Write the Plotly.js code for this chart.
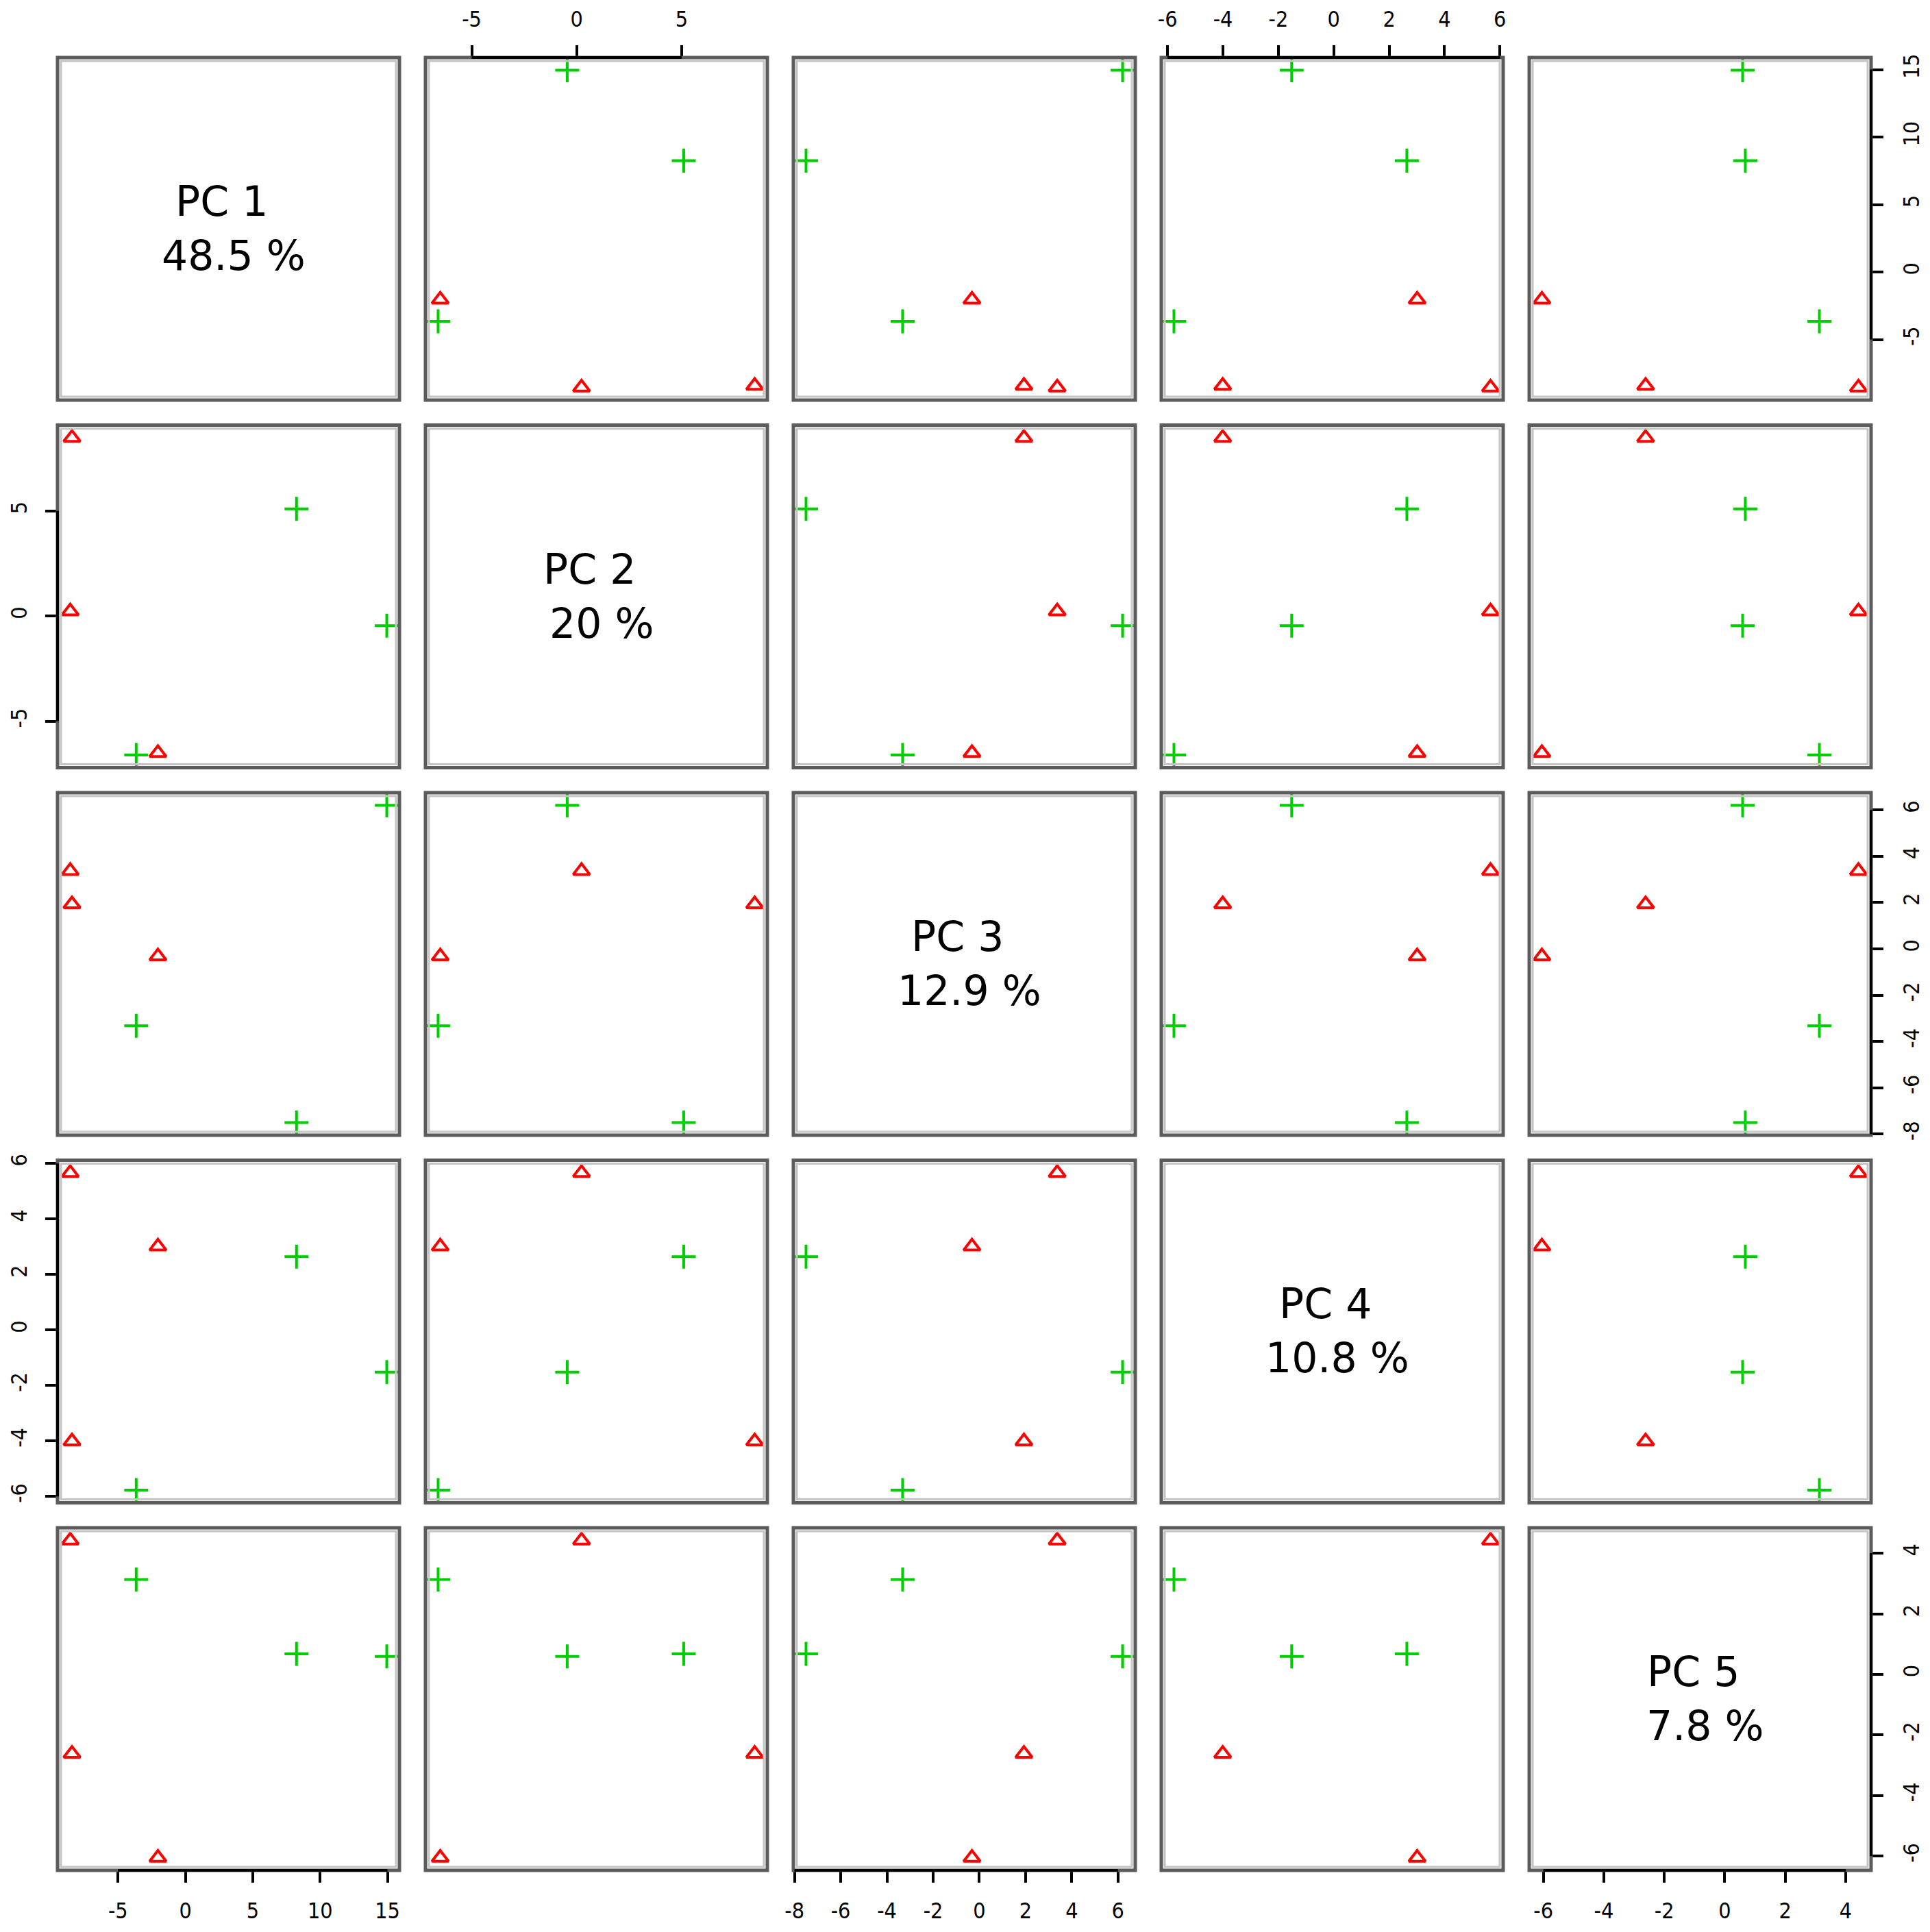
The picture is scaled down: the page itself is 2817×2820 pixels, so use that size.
<!DOCTYPE html>
<html>
<head>
<meta charset="utf-8">
<script src="https://cdn.plot.ly/plotly-3.0.1.min.js"></script>
<style>html,body{margin:0;padding:0;background:#fff;}</style>
</head>
<body>
<div id="chart" style="width:2817px;height:2820px;"></div>
<script>
// ---- data ----
const pcNames = ['PC 1', 'PC 2', 'PC 3', 'PC 4', 'PC 5'];
const pcVariance = ['48.5 %', '20 %', '12.9 %', '10.8 %', '7.8 %'];
const groups = ['red', 'red', 'red', 'green', 'green', 'green'];
const pc1 = [-8.42, -8.55, -2.04, 8.25, 14.95, -3.65];
const pc2 = [8.48, 0.23, -6.50, 5.10, -0.45, -6.60];
const pc3 = [1.93, 3.37, -0.32, -7.50, 6.20, -3.32];
const pc4 = [-4.01, 5.66, 3.01, 2.64, -1.52, -5.77];
const pc5 = [-2.62, 4.42, -6.05, 0.68, 0.59, 3.13];
const ticks1 = [-5, 0, 5, 10, 15];
const ticks2 = [-5, 0, 5];
const ticks3 = [-8, -6, -4, -2, 0, 2, 4, 6];
const ticks4 = [-6, -4, -2, 0, 2, 4, 6];
const ticks5 = [-6, -4, -2, 0, 2, 4];

// ---- layout helpers ----
const pcs = [pc1, pc2, pc3, pc4, pc5];
const tickSets = [ticks1, ticks2, ticks3, ticks4, ticks5];
const W = 2817, H = 2820;
const N = 5;
const colLeft = c => 84 + 537 * c;
const colW = 499;
const rowTop = r => 84 + 536.5 * r;
const rowH = 500;
const xDom = c => [colLeft(c) / W, (colLeft(c) + colW) / W];
const yDom = r => [1 - (rowTop(r) + rowH) / H, 1 - rowTop(r) / H];
const axId = (p, i) => (i === 0 ? p : p + (i + 1));
const axKey = (p, i) => (i === 0 ? p + 'axis' : p + 'axis' + (i + 1));

function extRange(v) {
  const mn = Math.min(...v), mx = Math.max(...v);
  const d = (mx - mn) * 0.04;
  return [mn - d, mx + d];
}

const tickFont = {family: 'Liberation Sans Narrow, Arial Narrow, DejaVu Sans Condensed, sans-serif', size: 32, color: '#000'};
const styles = {
  red: {symbol: 'triangle-up-open', color: '#ff0000', size: 21, line: {color: '#ff0000', width: 4}},
  green: {symbol: 'cross-thin-open', color: '#00cd00', size: 25, line: {color: '#00cd00', width: 4}}
};

const traces = [];
for (let r = 0; r < N; r++) {
  for (let c = 0; c < N; c++) {
    if (r === c) continue;
    ['red', 'green'].forEach(g => {
      const idx = groups.map((gg, i) => gg === g ? i : -1).filter(i => i >= 0);
      traces.push({
        type: 'scatter', mode: 'markers',
        x: idx.map(i => pcs[c][i]),
        y: idx.map(i => pcs[r][i]),
        xaxis: axId('x', c), yaxis: axId('y', r),
        marker: styles[g], showlegend: false, hoverinfo: 'skip'
      });
    });
  }
}

const layout = {
  width: W, height: H, autosize: false,
  margin: {l: 0, r: 0, t: 0, b: 0, pad: 0},
  paper_bgcolor: '#ffffff', plot_bgcolor: 'rgba(0,0,0,0)',
  showlegend: false, shapes: [], annotations: []
};

for (let i = 0; i < N; i++) {
  const xside = (i % 2 === 0) ? 'bottom' : 'top';
  const yside = (i % 2 === 0) ? 'right' : 'left';
  layout[axKey('x', i)] = {
    domain: xDom(i), range: extRange(pcs[i]), anchor: xside === 'bottom' ? axId('y', N - 1) : 'y',
    side: xside, showgrid: false, zeroline: false, showline: false,
    ticks: 'outside', ticklen: 17, tickwidth: 4, tickcolor: '#000',
    tickmode: 'array', tickvals: tickSets[i], ticktext: tickSets[i].map(String),
    tickfont: tickFont, tickangle: 0, ticklabelstandoff: 14, fixedrange: true
  };
  layout[axKey('y', i)] = {
    domain: yDom(i), range: extRange(pcs[i]), anchor: yside === 'right' ? axId('x', N - 1) : 'x',
    side: yside, showgrid: false, zeroline: false, showline: false,
    ticks: 'outside', ticklen: 17, tickwidth: 4, tickcolor: '#000',
    tickmode: 'array', tickvals: tickSets[i], ticktext: tickSets[i].map(String),
    tickfont: tickFont, tickangle: -90, ticklabelstandoff: 14, fixedrange: true
  };
}

// panel boxes
for (let r = 0; r < N; r++) {
  for (let c = 0; c < N; c++) {
    const x0 = colLeft(c), x1 = colLeft(c) + colW, y0 = rowTop(r), y1 = rowTop(r) + rowH;
    layout.shapes.push({type: 'rect', xref: 'paper', yref: 'paper',
      x0: (x0 + 5) / W, x1: (x1 - 5) / W, y0: 1 - (y1 - 5) / H, y1: 1 - (y0 + 5) / H,
      line: {color: '#c4c4c4', width: 3}});
    layout.shapes.push({type: 'rect', xref: 'paper', yref: 'paper',
      x0: x0 / W, x1: x1 / W, y0: 1 - y1 / H, y1: 1 - y0 / H,
      line: {color: '#5c5c5c', width: 5}});
  }
}

// axis lines spanning first..last tick (R style)
for (let i = 0; i < N; i++) {
  const t = tickSets[i];
  const xTop = (i % 2 !== 0);
  const ypx = xTop ? rowTop(0) : rowTop(N - 1) + rowH;
  layout.shapes.push({type: 'line', xref: axId('x', i), yref: 'paper',
    x0: t[0], x1: t[t.length - 1], y0: 1 - ypx / H, y1: 1 - ypx / H,
    line: {color: '#000', width: 4}});
  const yRight = (i % 2 === 0);
  const xpx = yRight ? colLeft(N - 1) + colW : colLeft(0);
  layout.shapes.push({type: 'line', xref: 'paper', yref: axId('y', i),
    x0: xpx / W, x1: xpx / W, y0: t[0], y1: t[t.length - 1],
    line: {color: '#000', width: 4}});
}

// diagonal labels
const diagFont = {family: 'DejaVu Sans, sans-serif', size: 60, color: '#000'};
for (let i = 0; i < N; i++) {
  const cx = (colLeft(i) + colW / 2) / W;
  const cy = 1 - (rowTop(i) + rowH / 2) / H;
  layout.annotations.push({xref: 'paper', yref: 'paper', x: cx, y: cy, text: pcNames[i],
    showarrow: false, xanchor: 'center', yanchor: 'middle', xshift: -10, yshift: 40, font: diagFont});
  layout.annotations.push({xref: 'paper', yref: 'paper', x: cx, y: cy, text: pcVariance[i],
    showarrow: false, xanchor: 'center', yanchor: 'middle', xshift: 7, yshift: -39, font: diagFont});
}

Plotly.newPlot('chart', traces, layout, {staticPlot: true, displayModeBar: false});
</script>
</body>
</html>
